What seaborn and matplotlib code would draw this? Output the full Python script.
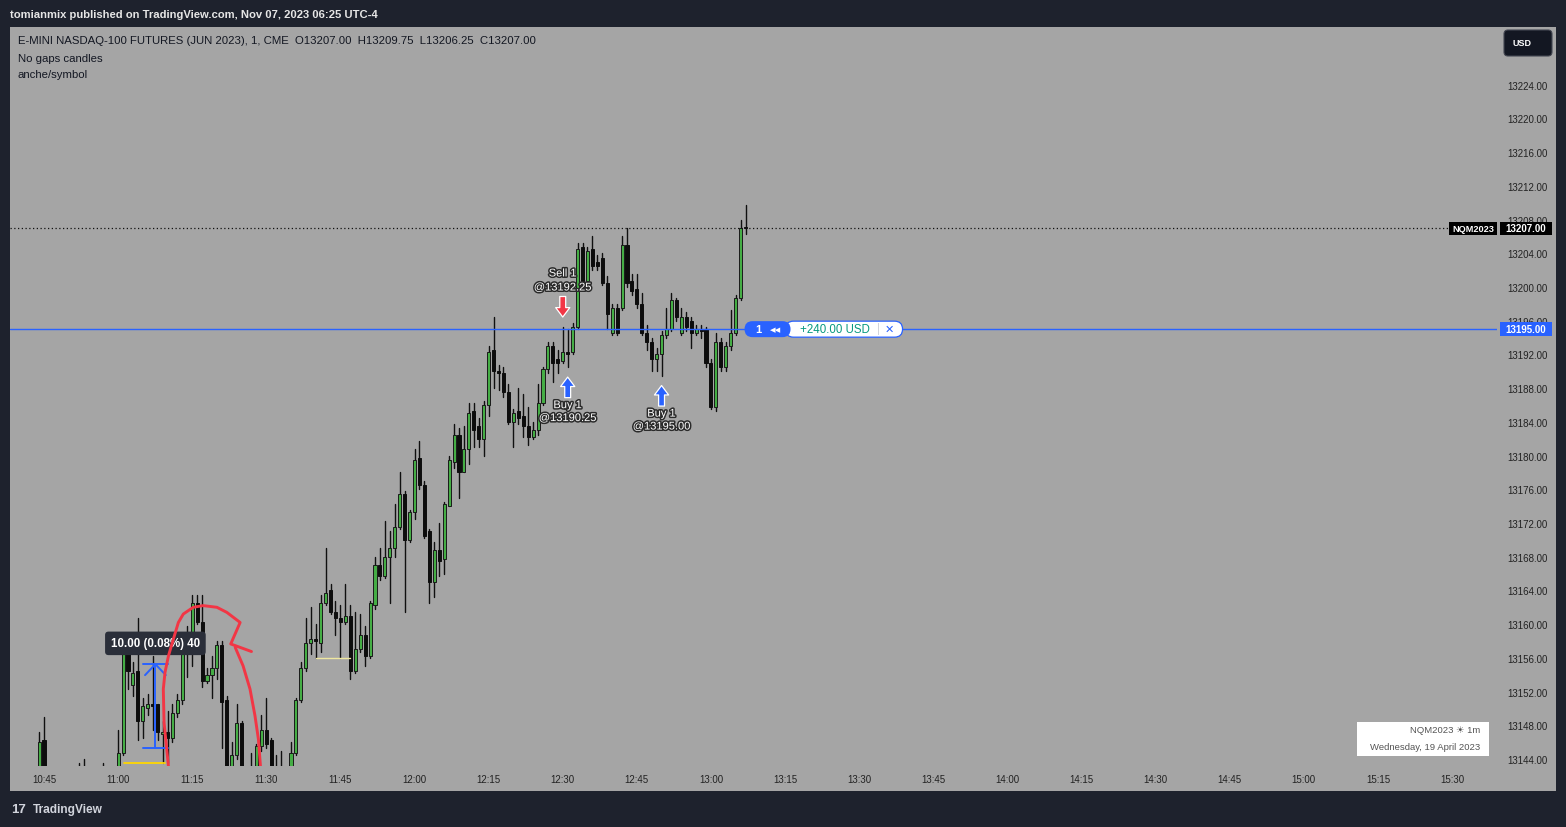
import numpy as np
import pandas as pd
import matplotlib
matplotlib.use("Agg")
import matplotlib.pyplot as plt
import matplotlib.patheffects as pe
from matplotlib.patches import FancyBboxPatch
from matplotlib.transforms import IdentityTransform
import seaborn as sns

# ---------------------------------------------------------------- data
symbol = "NQM2023"
legend_title = "E-MINI NASDAQ-100 FUTURES (JUN 2023), 1, CME"
publish_line = "tomianmix published on TradingView.com, Nov 07, 2023 06:25 UTC-4"
first_bar_time = "10:44"

opens = [
    13141.00, 13146.25, 13141.00, 13139.00, 13140.00, 13139.50, 13141.00, 13140.00,
    13141.00, 13142.00, 13141.50, 13140.00, 13139.00, 13141.00, 13140.50, 13139.50,
    13141.50, 13144.75, 13156.50, 13152.75, 13154.50, 13148.50, 13150.00, 13150.50,
    13150.50, 13147.00, 13147.25, 13146.50, 13149.50, 13151.00, 13158.50, 13157.75,
    13162.50, 13160.25, 13153.25, 13154.00, 13154.75, 13157.50, 13151.00, 13140.00,
    13144.50, 13148.25, 13140.00, 13141.00, 13141.00, 13145.50, 13147.50, 13146.25,
    13141.00, 13140.50, 13140.00, 13141.00, 13144.75, 13151.00, 13154.75, 13157.75,
    13158.25, 13157.75, 13162.50, 13164.00, 13161.50, 13160.75, 13160.25, 13161.00,
    13154.50, 13157.00, 13158.75, 13156.25, 13162.25, 13167.00, 13165.75, 13168.00,
    13169.00, 13171.50, 13175.50, 13170.00, 13173.25, 13179.75, 13176.50, 13171.00,
    13165.00, 13168.75, 13167.75, 13174.00, 13179.25, 13182.50, 13178.00, 13180.75,
    13185.25, 13183.50, 13182.00, 13186.00, 13192.50, 13190.00, 13189.75, 13187.50,
    13184.00, 13185.25, 13184.75, 13183.50, 13182.25, 13183.00, 13186.25, 13190.25,
    13193.00, 13191.50, 13191.25, 13192.25, 13192.25, 13195.25, 13204.75, 13200.75,
    13204.50, 13203.00, 13203.50, 13200.50, 13194.50, 13197.50, 13197.50, 13205.00,
    13200.75, 13199.75, 13198.00, 13194.50, 13193.50, 13191.50, 13192.00, 13194.25,
    13195.00, 13198.50, 13194.50, 13196.50, 13196.00, 13194.50, 13195.00, 13195.00,
    13191.00, 13185.75, 13193.50, 13190.50, 13193.00, 13194.50, 13198.75, 13207.00,
]
highs = [
    13147.25, 13149.00, 13142.50, 13141.00, 13142.00, 13141.50, 13142.50, 13142.00,
    13143.50, 13144.00, 13142.50, 13141.50, 13141.50, 13143.50, 13142.00, 13142.00,
    13147.50, 13157.00, 13157.00, 13155.50, 13160.75, 13151.25, 13151.75, 13156.25,
    13150.50, 13148.50, 13149.75, 13150.50, 13151.75, 13158.75, 13159.75, 13163.50,
    13163.50, 13163.50, 13154.75, 13156.25, 13158.00, 13158.00, 13151.50, 13146.00,
    13150.50, 13148.50, 13142.00, 13144.75, 13145.75, 13149.25, 13151.25, 13146.50,
    13144.50, 13145.00, 13142.00, 13146.00, 13151.25, 13155.50, 13160.75, 13162.00,
    13160.00, 13163.50, 13169.00, 13164.75, 13162.75, 13162.25, 13164.75, 13162.25,
    13161.50, 13161.25, 13159.75, 13162.75, 13168.00, 13169.00, 13172.25, 13171.00,
    13174.25, 13178.00, 13175.75, 13173.50, 13180.75, 13181.75, 13177.00, 13171.25,
    13169.75, 13172.00, 13174.50, 13180.00, 13183.75, 13183.25, 13183.50, 13186.25,
    13186.25, 13184.50, 13186.50, 13193.00, 13196.50, 13190.75, 13190.50, 13188.50,
    13185.50, 13188.00, 13187.25, 13185.75, 13184.00, 13188.50, 13190.50, 13193.50,
    13193.50, 13192.50, 13195.25, 13195.00, 13195.75, 13205.25, 13205.25, 13204.75,
    13206.00, 13203.75, 13204.00, 13201.25, 13198.00, 13198.00, 13206.00, 13207.00,
    13201.50, 13201.50, 13199.25, 13195.50, 13194.00, 13192.75, 13194.75, 13197.50,
    13199.25, 13198.75, 13197.50, 13197.00, 13196.50, 13195.50, 13195.50, 13195.25,
    13191.50, 13194.50, 13194.00, 13193.50, 13197.25, 13199.00, 13208.00, 13209.75,
]
lows = [
    13140.00, 13140.00, 13138.00, 13137.00, 13138.00, 13137.50, 13139.00, 13138.50,
    13139.50, 13140.00, 13139.00, 13138.00, 13137.50, 13139.50, 13138.00, 13138.50,
    13140.50, 13144.50, 13152.25, 13151.50, 13146.25, 13146.50, 13149.25, 13147.50,
    13146.25, 13143.50, 13143.50, 13146.00, 13149.00, 13150.50, 13153.75, 13155.00,
    13160.00, 13152.50, 13153.00, 13151.25, 13153.50, 13145.25, 13139.00, 13139.00,
    13144.00, 13139.00, 13137.00, 13138.00, 13140.00, 13145.00, 13145.25, 13140.00,
    13139.00, 13139.00, 13138.50, 13140.00, 13144.50, 13150.75, 13154.50, 13156.50,
    13156.00, 13156.75, 13162.25, 13161.25, 13158.75, 13156.00, 13160.00, 13153.50,
    13154.25, 13156.75, 13155.00, 13156.00, 13161.75, 13165.25, 13165.50, 13162.50,
    13168.00, 13171.25, 13161.50, 13169.75, 13172.50, 13176.00, 13170.25, 13162.50,
    13163.25, 13165.75, 13166.00, 13174.00, 13178.50, 13175.00, 13178.00, 13179.00,
    13181.00, 13181.00, 13180.00, 13184.75, 13188.00, 13187.75, 13187.00, 13183.75,
    13181.00, 13183.75, 13182.25, 13181.25, 13182.00, 13182.50, 13186.00, 13189.75,
    13188.75, 13189.75, 13191.00, 13190.50, 13192.00, 13195.00, 13200.00, 13200.50,
    13202.00, 13202.00, 13200.25, 13195.00, 13194.25, 13194.25, 13197.25, 13200.00,
    13199.00, 13197.50, 13194.25, 13192.50, 13190.00, 13190.00, 13189.50, 13194.00,
    13194.75, 13196.00, 13194.25, 13194.75, 13192.75, 13194.25, 13194.00, 13190.50,
    13185.50, 13185.25, 13190.00, 13190.00, 13192.50, 13194.25, 13198.50, 13206.25,
]
closes = [
    13146.00, 13141.00, 13139.00, 13140.00, 13139.50, 13141.00, 13140.00, 13141.00,
    13142.00, 13141.50, 13140.00, 13139.00, 13141.00, 13140.50, 13139.50, 13141.50,
    13144.75, 13156.50, 13154.50, 13154.25, 13148.50, 13150.25, 13150.50, 13150.25,
    13147.25, 13147.25, 13146.50, 13149.50, 13151.00, 13158.50, 13157.75, 13162.50,
    13160.25, 13153.25, 13154.00, 13154.75, 13157.50, 13150.75, 13140.00, 13144.50,
    13148.25, 13140.00, 13139.00, 13140.00, 13145.50, 13147.50, 13145.75, 13141.00,
    13140.50, 13140.00, 13140.50, 13144.75, 13151.00, 13154.75, 13157.75, 13158.25,
    13158.00, 13162.50, 13163.75, 13161.50, 13160.75, 13160.25, 13161.00, 13154.50,
    13157.00, 13158.75, 13156.25, 13162.50, 13167.00, 13165.75, 13168.00, 13169.00,
    13171.50, 13175.50, 13170.00, 13173.25, 13179.50, 13176.50, 13170.50, 13165.00,
    13168.75, 13167.50, 13174.25, 13179.50, 13182.50, 13178.00, 13180.75, 13185.00,
    13183.00, 13182.00, 13186.00, 13192.25, 13190.00, 13189.75, 13187.50, 13184.00,
    13185.00, 13184.50, 13183.50, 13182.25, 13183.00, 13186.25, 13190.25, 13193.00,
    13191.00, 13191.00, 13192.25, 13192.00, 13195.25, 13204.50, 13200.75, 13204.25,
    13202.50, 13202.50, 13200.50, 13196.75, 13197.50, 13194.50, 13205.00, 13200.50,
    13199.50, 13198.00, 13194.50, 13193.50, 13191.50, 13192.00, 13194.25, 13195.00,
    13198.50, 13196.50, 13196.50, 13195.25, 13194.50, 13195.00, 13194.75, 13191.00,
    13185.75, 13193.50, 13190.50, 13193.00, 13194.50, 13198.75, 13207.00, 13207.00,
]

time_ticks = ["10:45", "11:00", "11:15", "11:30", "11:45", "12:00", "12:15",
              "12:30", "12:45", "13:00", "13:15", "13:30", "13:45", "14:00",
              "14:15", "14:30", "14:45", "15:00", "15:15", "15:30"]
price_ticks = [13144.0, 13148.0, 13152.0, 13156.0, 13160.0, 13164.0, 13168.0,
               13172.0, 13176.0, 13180.0, 13184.0, 13188.0, 13192.0, 13196.0,
               13200.0, 13204.0, 13208.0, 13212.0, 13216.0, 13220.0, 13224.0]

trade_sides = ["Sell", "Buy", "Buy"]
trade_times = ["12:30", "12:31", "12:50"]
trade_prices = [13192.25, 13190.25, 13195.00]
trade_qty = [1, 1, 1]

position_qty = 1
position_price = 13195.00
position_pnl = "+240.00 USD"

# ruler drawing (minutes after 10:45, price)
measure_t = [20.0, 25.1]
measure_p = [13145.25, 13155.25]
tick_size = 0.25

# hand drawn red strokes (minutes after 10:45, price)
red1_t = [25.3, 24.3, 24.15, 24.5, 25.2, 26.2, 27.2, 28.2, 30.2, 32.2, 35.0, 37.0, 39.7, 37.8, 42.0]
red1_p = [13142.5, 13148.35, 13152.3, 13154.3, 13156.25, 13158.25, 13160.2, 13161.2,
          13162.0, 13162.2, 13162.0, 13161.4, 13160.2, 13157.65, 13156.75]
red2_t = [38.7, 40.3, 41.7, 42.7, 43.4, 43.9]
red2_p = [13157.25, 13155.05, 13152.3, 13149.15, 13146.35, 13142.5]
# short horizontal drawings (minutes after 10:45, price)
yellow_t = [16.2, 24.5]
yellow_p = 13143.5
pale_t = [55.0, 62.0]
pale_p = 13156.0

info_line1 = "NQM2023 \u2600 1m"
info_line2 = "Wednesday, 19 April 2023"

# ---------------------------------------------------------------- style
sns.set_theme(style="white")
plt.rcParams["font.family"] = ["Liberation Sans", "DejaVu Sans"]

W, H = 1566, 828
DARK = "#1e222d"
GRAY = "#a5a5a5"
GREEN = "#45ad45"
BLUE = "#2962ff"
RED = "#f23645"

fig = plt.figure(figsize=(W / 100, H / 100), dpi=100, facecolor=DARK)


def to_min(s):
    h, m = s.split(":")
    return int(h) * 60 + int(m)


def add_box(x0, y0, x1, y1, fc, ec="none", lw=0.0, r=0.0, z=5):
    style = f"round,pad=0,rounding_size={r}" if r > 0 else "square,pad=0"
    p = FancyBboxPatch((x0, H - y1), x1 - x0, y1 - y0, boxstyle=style,
                       fc=fc, ec=ec, lw=lw, transform=IdentityTransform(), zorder=z)
    fig.add_artist(p)


def add_text(x, y, s, **kw):
    kw.setdefault("zorder", 6)
    kw.setdefault("va", "center")
    fig.text(x / W, 1 - y / H, s, **kw)


# chart panel
add_box(10, 28, 1556, 792, fc=GRAY, z=-1)

ax = fig.add_axes([10 / W, (H - 767) / H, 1487 / W, 739 / H])
ax.patch.set_alpha(0)
for s in ax.spines.values():
    s.set_visible(False)

t0 = to_min(first_bar_time)
base = to_min("10:45")
df = pd.DataFrame({"open": opens, "high": highs, "low": lows, "close": closes})
df["t"] = t0 + np.arange(len(df))
up = (df["close"] > df["open"]).to_numpy()

# wicks through seaborn
wick = pd.DataFrame({
    "bar": np.repeat(df.index.to_numpy(), 2),
    "t": np.repeat(df["t"].to_numpy(), 2),
    "price": np.column_stack([df["low"], df["high"]]).ravel(),
})
sns.lineplot(data=wick, x="t", y="price", units="bar", estimator=None, sort=False,
             color="#101010", lw=1.0, ax=ax, legend=False)

bottom = np.minimum(df["open"], df["close"]).to_numpy()
height = np.maximum(np.abs(df["close"] - df["open"]).to_numpy(), 0.12)
tt = df["t"].to_numpy()
ax.bar(tt[up], height[up], bottom=bottom[up], width=0.62, color=GREEN,
       edgecolor="#1a1a1a", linewidth=0.7, zorder=3)
ax.bar(tt[~up], height[~up], bottom=bottom[~up], width=0.62, color="#0d0d0d",
       edgecolor="#0d0d0d", linewidth=0.7, zorder=3)

# limits / axes
ax.set_xlim(638.12, 939.1)
ax.set_ylim(13143.17, 13230.85)
ax.set_xlabel("")
ax.set_ylabel("")
ax.set_yticks(price_ticks)
ax.set_yticklabels([f"{p:.2f}" for p in price_ticks])
ax.yaxis.tick_right()
ax.tick_params(axis="y", length=0, pad=7.2, labelsize=7, labelcolor="#222222")
ax.set_xticks([to_min(s) for s in time_ticks])
ax.set_xticklabels(time_ticks)
ax.tick_params(axis="x", length=0, pad=5.5, labelsize=7, labelcolor="#222222")
ax.grid(False)

# position and last price lines
ax.axhline(position_price, color=BLUE, lw=1.0, zorder=4)
ax.axhline(closes[-1], color="#111111", lw=0.9, ls=(0, (1, 2)), zorder=4)

# drawings
ax.plot([base + v for v in yellow_t], [yellow_p] * 2, color="#ffd600", lw=1.3, zorder=4)
ax.plot([base + v for v in pale_t], [pale_p] * 2, color="#efe7a0", lw=1.0, zorder=4)

mt0, mt1 = base + measure_t[0], base + measure_t[1]
mc = (mt0 + mt1) / 2
ax.plot([mt0, mt1], [measure_p[0]] * 2, color=BLUE, lw=1.4, zorder=4)
ax.plot([mt0, mt1], [measure_p[1]] * 2, color=BLUE, lw=1.4, zorder=4)
ax.plot([mc, mc], measure_p, color=BLUE, lw=1.4, zorder=4)
ax.plot([mc - 2.1, mc, mc + 2.1], [measure_p[1] - 1.3, measure_p[1], measure_p[1] - 1.3],
        color=BLUE, lw=1.4, zorder=4)
diff = measure_p[1] - measure_p[0]
pct = diff / measure_p[0] * 100
ax.annotate(f"{diff:.2f} ({pct:.2f}%) {int(round(diff / tick_size))}",
            xy=(mc, measure_p[1]), xytext=(0, 15), textcoords="offset points",
            ha="center", va="center", color="white", fontsize=8.3, weight="bold", zorder=5,
            bbox=dict(boxstyle="round,pad=0.5,rounding_size=0.3", fc="#2a2e39", ec="none"))

ax.plot([base + v for v in red1_t], red1_p, color=RED, lw=2.1, zorder=6,
        solid_joinstyle="round", solid_capstyle="round")
ax.plot([base + v for v in red2_t], red2_p, color=RED, lw=2.1, zorder=6,
        solid_joinstyle="round", solid_capstyle="round")

# trade markers
stroke = [pe.withStroke(linewidth=2.2, foreground="#2b2b2b")]
for side, tm, pr, q in zip(trade_sides, trade_times, trade_prices, trade_qty):
    i = to_min(tm) - t0
    tx = to_min(tm)
    if side == "Sell":
        anchor = highs[i]
        sgn = 1
        col = RED
    else:
        anchor = lows[i]
        sgn = -1
        col = BLUE
    ax.annotate("", xy=(tx, anchor), xytext=(0, sgn * 22), textcoords="offset points",
                arrowprops=dict(arrowstyle="simple,head_length=0.8,head_width=1.2,tail_width=0.5",
                                mutation_scale=8.5, fc=col, ec="white", lw=0.9,
                                shrinkA=0, shrinkB=7.2), zorder=7)
    line1 = f"{side} {q}"
    line2 = f"@{pr:.2f}"
    off1, off2 = (38.6, 28.5) if sgn > 0 else (-27.4, -36.7)
    for txt, off in ((line1, off1), (line2, off2)):
        ax.annotate(txt, xy=(tx, anchor), xytext=(0, off), textcoords="offset points",
                    ha="center", va="center", color="white", fontsize=8,
                    path_effects=stroke, zorder=7)


def to_px(x, y):
    xd, yd = ax.transData.transform((x, y))
    return xd, H - yd


# right scale labels
_, y_last = to_px(tt[-1], closes[-1])
add_box(1449, y_last - 6.5, 1497, y_last + 6.5, fc="#000000")
add_text(1473, y_last, symbol, ha="center", color="white", fontsize=6.6, weight="bold")
add_box(1500, y_last - 6.5, 1552, y_last + 6.5, fc="#000000")
add_text(1526, y_last, f"{closes[-1]:.2f}", ha="center", color="white", fontsize=7, weight="bold")

x_last, y_pos = to_px(tt[-1], position_price)
add_box(1500, y_pos - 7, 1552, y_pos + 7, fc=BLUE)
add_text(1526, y_pos, f"{position_price:.2f}", ha="center", color="white", fontsize=7, weight="bold")

# position widget
left = x_last - 1
add_box(left + 41, y_pos - 8, left + 158, y_pos + 8, fc="white", ec=BLUE, lw=0.9, r=8)
add_box(left, y_pos - 8, left + 46, y_pos + 8, fc=BLUE, r=8, z=5.5)
add_text(left + 14, y_pos, str(position_qty), ha="center", color="white", fontsize=8, weight="bold")
add_text(left + 31, y_pos, "\u25c0\u25c0", ha="center", color="white", fontsize=5.2,
         family="DejaVu Sans")
add_text(left + 90, y_pos, position_pnl, ha="center", color="#089981", fontsize=8.3)
add_box(left + 133.5, y_pos - 6, left + 134.5, y_pos + 6, fc="#d1d4dc", z=5.6)
add_text(left + 145, y_pos, "\u2715", ha="center", color=BLUE, fontsize=8, family="DejaVu Sans")

# USD button
add_box(1504, 31, 1552, 57, fc="#131722", ec="#434651", lw=0.8, r=4)
add_text(1522, 44, "USD", ha="center", color="white", fontsize=6.5, weight="bold")

# info box bottom right
add_box(1357, 723, 1489, 757, fc="white", z=5)
add_text(1480, 731, info_line1, ha="right", color="#555555", fontsize=6.8)
add_text(1480, 748, info_line2, ha="right", color="#555555", fontsize=6.8)

# header and legend
add_text(10, 14.5, publish_line, ha="left", color="#e6e6e6", fontsize=8.1, weight="bold")
ohlc = f"O{opens[-1]:.2f}  H{highs[-1]:.2f}  L{lows[-1]:.2f}  C{closes[-1]:.2f}"
add_text(18, 41.5, f"{legend_title}  {ohlc}", ha="left", color="#131722", fontsize=8.2)
add_text(18, 58.5, "No gaps candles", ha="left", color="#131722", fontsize=8.2)
add_text(18, 75.5, "anche/symbol", ha="left", color="#131722", fontsize=8.2)

# footer logo
add_text(11, 810, "17", ha="left", color="#d1d4dc", fontsize=9.5, weight="bold")
add_text(33, 810, "TradingView", ha="left", color="#d1d4dc", fontsize=8.6, weight="bold")

fig.savefig("out.png", dpi=100, facecolor=DARK)
